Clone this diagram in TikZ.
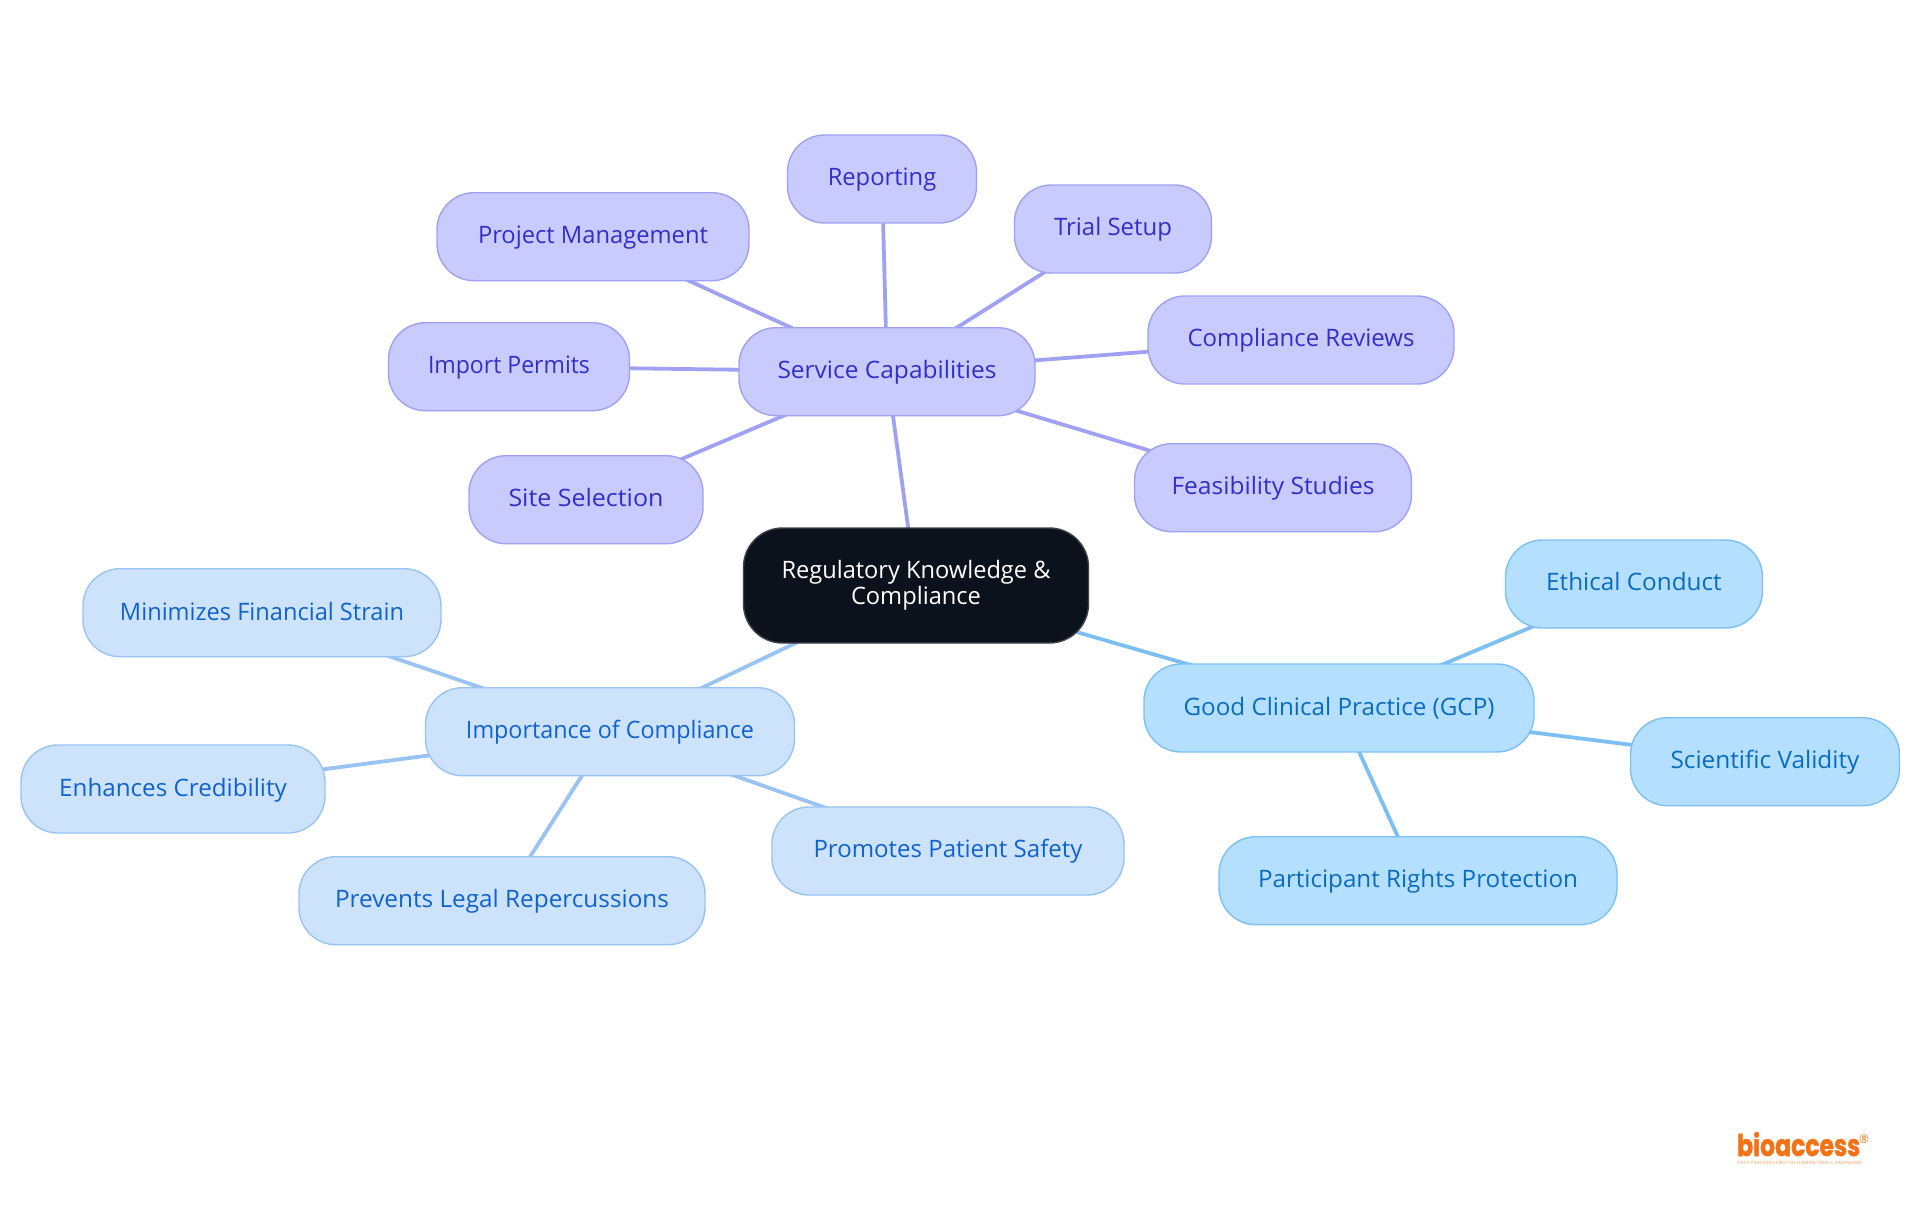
\documentclass[tikz,border=0pt]{standalone}
\usepackage{fontspec}
\setmainfont{Open Sans}
\newfontfamily\logofont[BoldFeatures={FakeBold=1.6}]{Poppins}
\usetikzlibrary{backgrounds}
\definecolor{rootfill}{HTML}{0B121B}
\definecolor{rootline}{HTML}{3F444B}
\definecolor{purplefill}{HTML}{C9CAFD}
\definecolor{purpleline}{HTML}{A0A1F2}
\definecolor{purpletext}{HTML}{3030C8}
\definecolor{bluefill}{HTML}{CDE3FC}
\definecolor{blueline}{HTML}{98C3F2}
\definecolor{bluetext}{HTML}{1063CC}
\definecolor{skyfill}{HTML}{B4DFFF}
\definecolor{skyline}{HTML}{7CC0F3}
\definecolor{skytext}{HTML}{0A6CBE}
\definecolor{logoorange}{HTML}{F47216}
\newcommand{\fitw}[2]{\resizebox{#1pt}{\height}{#2}}
\tikzset{
  x=1pt,y=-1pt,
  mapnode/.style={rectangle,rounded corners=37pt,line width=1.4pt,inner sep=0pt,minimum height=88pt,
    font=\fontsize{24pt}{26pt}\selectfont,text height=19pt,text depth=6pt,anchor=center},
  purplenode/.style={mapnode,draw=purpleline,fill=purplefill,text=purpletext},
  bluenode/.style={mapnode,draw=blueline,fill=bluefill,text=bluetext},
  skynode/.style={mapnode,draw=skyline,fill=skyfill,text=skytext},
  rootnode/.style={rectangle,rounded corners=39pt,line width=1.4pt,inner sep=0pt,draw=rootline,fill=rootfill,text=white,
    minimum height=115pt,minimum width=345pt,align=center,font=\fontsize{24pt}{26pt}\selectfont},
  purpleedge/.style={draw=purpleline,line width=3.8pt},
  blueedge/.style={draw=blueline,line width=3.8pt},
  skyedge/.style={draw=skyline,line width=3.8pt},
}
\begin{document}
\begin{tikzpicture}
\useasboundingbox (0,0) rectangle (1920,1215);
\node[rootnode] (root) at (916,585.5) {\shortstack[c]{\fitw{269}{Regulatory Knowledge \&}\\[-1pt]\fitw{130}{Compliance}}};

\node[purplenode,minimum width=296pt] (service) at (887,371.7) {\fitw{219}{Service Capabilities}};
\node[purplenode,minimum width=189pt] (reporting) at (882,179) {\fitw{108.5}{Reporting}};
\node[purplenode,minimum width=197pt] (trial) at (1113,229) {\fitw{118}{Trial Setup}};
\node[purplenode,minimum width=306pt] (reviews) at (1301,340) {\fitw{227}{Compliance Reviews}};
\node[purplenode,minimum width=277pt] (feasibility) at (1273,487.7) {\fitw{203}{Feasibility Studies}};
\node[purplenode,minimum width=312pt] (project) at (593,236.7) {\fitw{230}{Project Management}};
\node[purplenode,minimum width=241pt] (permits) at (509,366.7) {\fitw{162}{Import Permits}};
\node[purplenode,minimum width=234pt] (site) at (586,499.7) {\fitw{155}{Site Selection}};

\node[bluenode,minimum width=369pt] (importance) at (610,731.7) {\fitw{288}{Importance of Compliance}};
\node[bluenode,minimum width=358pt] (strain) at (262,612.7) {\raisebox{-1pt}{\fitw{284}{Minimizes Financial Strain}}};
\node[bluenode,minimum width=304pt] (credibility) at (173,789) {\raisebox{-1pt}{\fitw{227.5}{Enhances Credibility}}};
\node[bluenode,minimum width=406pt] (legal) at (502,900.7) {\fitw{334}{Prevents Legal Repercussions}};
\node[bluenode,minimum width=352pt] (safety) at (948,851) {\fitw{269}{Promotes Patient Safety}};

\node[skynode,minimum width=390pt] (gcp) at (1339,708) {\raisebox{-1pt}{\fitw{311}{Good Clinical Practice (GCP)}}};
\node[skynode,minimum width=257pt] (ethical) at (1634,584) {\fitw{175.6}{Ethical Conduct}};
\node[skynode,minimum width=269pt] (validity) at (1765,761.7) {\fitw{189}{Scientific Validity}};
\node[skynode,minimum width=398pt] (rights) at (1418,880.7) {\fitw{320}{Participant Rights Protection}};

\begin{scope}[on background layer]
\foreach \n in {root,reporting,trial,reviews,feasibility,project,permits,site}
  \draw[purpleedge] (service.center) -- (\n.center);
\foreach \n in {root,strain,credibility,legal,safety}
  \draw[blueedge] (importance.center) -- (\n.center);
\foreach \n in {root,ethical,validity,rights}
  \draw[skyedge] (gcp.center) -- (\n.center);
\end{scope}

\node[inner sep=0pt,anchor=base west,text=logoorange] (logo) at (1737,1156) {\resizebox{123pt}{24pt}{\logofont\bfseries bioaccess}};
\node[inner sep=0pt,anchor=center,text=logoorange] (logor) at (1864,1139) {\fontsize{12pt}{12pt}\selectfont ®};
\node[inner sep=0pt,anchor=base west,text=logoorange!70] (tagline) at (1738,1164.5) {\resizebox{124pt}{3.2pt}{\fontsize{8pt}{8pt}\selectfont FAST-TRACKING FIRST-IN-HUMAN TRIALS, ANYWHERE}};
\end{tikzpicture}
\end{document}
